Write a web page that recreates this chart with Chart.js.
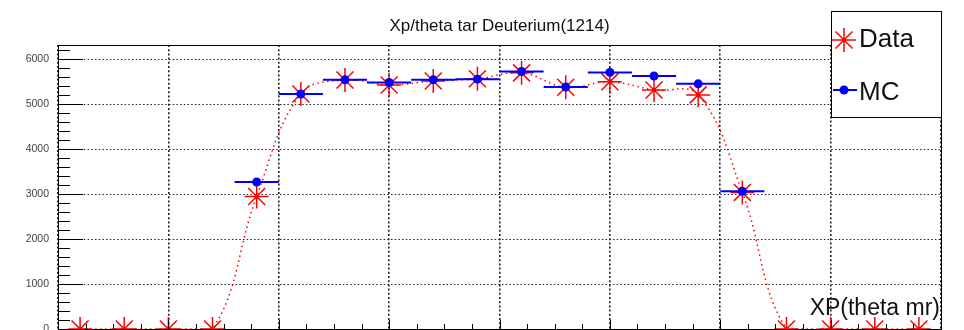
<!DOCTYPE html>
<html>
<head>
<meta charset="utf-8">
<title>Xp/theta tar Deuterium(1214)</title>
<script src="https://cdn.jsdelivr.net/npm/chart.js@4.4.0/dist/chart.umd.min.js"></script>
<style>
  html, body { margin: 0; padding: 0; background: #fff; }
  #wrap { width: 964px; height: 330px; }
</style>
</head>
<body>
<div id="wrap"><canvas id="xpChart" width="964" height="330"></canvas></div>
<script>
// 20 bins of 4 mr between -40 and 40
const binCenters = [-38, -34, -30, -26, -22, -18, -14, -10, -6, -2, 2, 6, 10, 14, 18, 22, 26, 30, 34, 38];
const binWidth = 4;
const dataCounts = [0, 0, 0, 0, 2950, 5230, 5540, 5430, 5520, 5570, 5700, 5380, 5500, 5320, 5210, 3040, 0, 0, 0, 0];
const mcCounts = [null, null, null, null, 3270, 5230, 5545, 5485, 5545, 5560, 5730, 5385, 5710, 5630, 5455, 3065, null, null, null, null];
const yTickValues = [0, 1000, 2000, 3000, 4000, 5000, 6000];
const yMax = 6320;

const FONT = "'Liberation Sans', Arial, Helvetica, sans-serif";

const dataPoints = binCenters.map((x, i) => ({ x: x, y: dataCounts[i] }));
const mcPoints = binCenters.map((x, i) => ({ x: x, y: mcCounts[i] })).filter(p => p.y !== null);

// horizontal bin-width bars for MC, broken by null points
const mcBars = [];
binCenters.forEach((x, i) => {
	if (mcCounts[i] === null) return;
	mcBars.push({ x: x - binWidth / 2, y: mcCounts[i] });
	mcBars.push({ x: x + binWidth / 2, y: mcCounts[i] });
	mcBars.push({ x: x + binWidth / 2, y: null });
});

// frame, inward ticks, title, axis label and legend box in ROOT style
const rootFrame = {
	id: 'rootFrame',
	afterDraw(chart) {
		const ctx = chart.ctx;
		const a = chart.chartArea;
		const xs = chart.scales.x;
		const ys = chart.scales.y;
		ctx.save();
		ctx.strokeStyle = '#000';
		ctx.lineWidth = 1;
		ctx.setLineDash([]);

		// frame
		ctx.strokeRect(Math.round(a.left) + 0.5, Math.round(a.top) + 0.5,
			Math.round(a.right - a.left), Math.round(a.bottom - a.top));

		// y ticks (major every 1000, minor every 200)
		ctx.beginPath();
		for (let v = 0; v <= yMax; v += 200) {
			const y = Math.round(ys.getPixelForValue(v)) + 0.5;
			const len = v % 1000 === 0 ? 25 : 12;
			ctx.moveTo(a.left, y);
			ctx.lineTo(a.left + len, y);
		}
		// x ticks (major every 10, minor every 2.5)
		for (let v = -40; v <= 40; v += 2.5) {
			const x = Math.round(xs.getPixelForValue(v)) + 0.5;
			const len = v % 10 === 0 ? 9 : 5;
			ctx.moveTo(x, a.bottom);
			ctx.lineTo(x, a.bottom - len);
		}
		ctx.stroke();

		// title
		ctx.fillStyle = '#111';
		ctx.font = '17px ' + FONT;
		ctx.textAlign = 'center';
		ctx.textBaseline = 'alphabetic';
		ctx.fillText('Xp/theta tar Deuterium(1214)', (a.left + a.right) / 2, 31);

		// x axis title
		ctx.font = '23px ' + FONT;
		ctx.textAlign = 'right';
		ctx.fillText('XP(theta mr)', a.right - 1, 315);

		// legend box
		const lx = 831, ly = 11, lw = 110, lh = 106;
		ctx.fillStyle = '#fff';
		ctx.fillRect(lx, ly, lw, lh);
		ctx.strokeStyle = '#000';
		ctx.strokeRect(lx + 0.5, ly + 0.5, lw, lh);

		// Data entry: red asterisk
		const sx = 844, sy = 40, r = 12;
		ctx.strokeStyle = '#ff0000';
		ctx.lineWidth = 1.5;
		ctx.beginPath();
		for (let k = 0; k < 4; k++) {
			const ang = k * Math.PI / 4;
			ctx.moveTo(sx - Math.cos(ang) * r, sy - Math.sin(ang) * r);
			ctx.lineTo(sx + Math.cos(ang) * r, sy + Math.sin(ang) * r);
		}
		ctx.stroke();
		ctx.fillStyle = '#ff0000';
		ctx.beginPath();
		ctx.arc(sx, sy, 2, 0, Math.PI * 2);
		ctx.fill();

		// MC entry: blue bar with dot
		ctx.strokeStyle = '#0000ff';
		ctx.lineWidth = 2;
		ctx.beginPath();
		ctx.moveTo(833, 90);
		ctx.lineTo(857, 90);
		ctx.stroke();
		ctx.fillStyle = '#0000ff';
		ctx.beginPath();
		ctx.arc(844, 90, 4.5, 0, Math.PI * 2);
		ctx.fill();

		ctx.fillStyle = '#111';
		ctx.font = '26px ' + FONT;
		ctx.textAlign = 'left';
		ctx.fillText('Data', 859, 47);
		ctx.fillText('MC', 859, 100);
		ctx.restore();
	}
};

document.addEventListener('DOMContentLoaded', function() {
	const ctx = document.getElementById('xpChart').getContext('2d');
	window.myChart = new Chart(ctx, {
		type: 'scatter',
		data: {
			datasets: [
				{
					label: 'MC',
					data: mcPoints,
					pointStyle: 'circle',
					pointRadius: 4.5,
					backgroundColor: '#0000ff',
					borderColor: '#0000ff',
					borderWidth: 0
				},
				{
					label: 'MC bins',
					data: mcBars,
					showLine: true,
					spanGaps: false,
					borderColor: '#0000ff',
					borderWidth: 2,
					pointRadius: 0
				},
				{
					label: 'Data',
					data: dataPoints,
					pointStyle: 'star',
					pointRadius: 12,
					borderColor: '#ff0000',
					backgroundColor: '#ff0000',
					borderWidth: 1.5
				},
				{
					label: 'Data centre',
					data: dataPoints,
					pointStyle: 'circle',
					pointRadius: 1.8,
					borderWidth: 0,
					backgroundColor: '#ff0000'
				},
				{
					label: 'Data curve',
					data: dataPoints,
					showLine: true,
					tension: 0.4,
					borderColor: '#ff0000',
					borderWidth: 1.5,
					borderDash: [1.5, 3.5],
					pointRadius: 0
				}
			]
		},
		options: {
			responsive: false,
			animation: false,
			devicePixelRatio: 1,
			layout: { autoPadding: false, padding: { top: 45, right: 23, bottom: 1, left: 0 } },
			plugins: {
				legend: { display: false },
				title: { display: false },
				tooltip: { enabled: false }
			},
			scales: {
				x: {
					type: 'linear',
					min: -40,
					max: 40,
					ticks: { display: false, stepSize: 10 },
					grid: { color: '#222', lineWidth: 1.6, drawTicks: false },
					border: { display: false, dash: [2, 2.2] },
					afterFit: function(scale) { scale.height = 0; }
				},
				y: {
					min: 0,
					max: yMax,
					ticks: {
						padding: 9,
						color: '#444',
						font: { family: FONT, size: 10.5 },
						callback: function(value) { return String(value); }
					},
					afterBuildTicks: function(scale) {
						scale.ticks = yTickValues.map(v => ({ value: v }));
					},
					grid: { color: '#222', lineWidth: 1, drawTicks: false },
					border: { display: false, dash: [1.5, 2.2] },
					afterFit: function(scale) {
						// let the bottom "0" label hang below the plot frame
						scale.width = 58;
						scale.paddingTop = 0;
						scale.paddingBottom = 0;
					}
				}
			}
		},
		plugins: [rootFrame]
	});
});
</script>
</body>
</html>
